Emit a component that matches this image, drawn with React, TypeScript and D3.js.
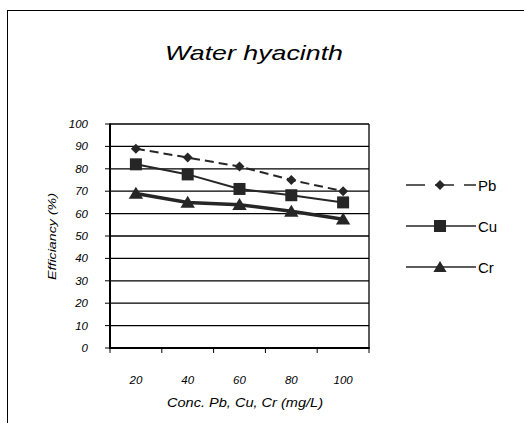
import React from "react";
import * as d3 from "d3";

const categories = ["20", "40", "60", "80", "100"];
const pbValues = [89, 85, 81, 75, 70];
const cuValues = [82, 77.5, 71, 68.2, 65];
const crValues = [69, 65, 64, 61, 57.5];
const yTicks = [0, 10, 20, 30, 40, 50, 60, 70, 80, 90, 100];
const seriesNames = ["Pb", "Cu", "Cr"];

const W = 524;
const H = 423;
const left = 110;
const right = 369;
const top = 124;
const bottom = 348;
const ink = "#262626";
const font = "'Liberation Sans', Arial, sans-serif";

export default function App() {
  const x = d3.scaleBand<string>().domain(categories).range([left, right]);
  const y = d3.scaleLinear().domain([0, 100]).range([bottom, top]);
  const cx = (c: string) => (x(c) as number) + x.bandwidth() / 2;
  const line = d3
    .line<number>()
    .x((_, i) => cx(categories[i]))
    .y((d) => y(d));

  const diamond = (px: number, py: number, r: number) =>
    `M${px},${py - r}L${px + r},${py}L${px},${py + r}L${px - r},${py}Z`;
  const tri = (px: number, py: number, s: number) =>
    `M${px},${py - s * 0.55}L${px + s * 0.6},${py + s * 0.45}L${px - s * 0.6},${py + s * 0.45}Z`;

  const legendY = [185, 226, 267];
  const lx0 = 406;
  const lx1 = 476;
  const lmx = 440;

  const boundaries = [...categories.map((c) => x(c) as number), right];

  return (
    <div style={{ position: "absolute", left: 0, top: 0 }}>
      <svg width={W} height={H} style={{ display: "block", background: "#fff" }}>
        <rect x={7.5} y={10.5} width={700} height={700} fill="#fff" stroke="#000" strokeWidth={1} />
        <text
          x={165}
          y={60}
          textLength={178}
          lengthAdjust="spacingAndGlyphs"
          fontFamily={font}
          fontStyle="italic"
          fontSize={21}
          fill="#000"
        >
          Water hyacinth
        </text>

        {/* gridlines */}
        {yTicks.map((t) => (
          <line key={"g" + t} x1={left} x2={right} y1={y(t)} y2={y(t)} stroke="#000" strokeWidth={1.3} />
        ))}
        {/* plot frame */}
        <line x1={right} x2={right} y1={top} y2={bottom} stroke="#000" strokeWidth={1.3} />
        <line x1={left} x2={left} y1={top - 0.5} y2={bottom + 1} stroke="#000" strokeWidth={2} />
        <line x1={left} x2={right + 0.7} y1={bottom} y2={bottom} stroke="#000" strokeWidth={2} />

        {/* y ticks */}
        {yTicks.map((t) => (
          <g key={"yt" + t}>
            <line x1={left - 5} x2={left} y1={y(t)} y2={y(t)} stroke="#000" strokeWidth={1} />
            <text
              x={88}
              y={y(t) + 4}
              textAnchor="end"
              fontFamily={font}
              fontStyle="italic"
              fontSize={11.5}
              fill="#000"
            >
              {t}
            </text>
          </g>
        ))}
        {/* x ticks */}
        {boundaries.map((b, i) => (
          <line key={"xt" + i} x1={b} x2={b} y1={bottom} y2={bottom + 5} stroke="#000" strokeWidth={1} />
        ))}
        {categories.map((c) => (
          <text
            key={"xl" + c}
            x={cx(c)}
            y={384}
            textAnchor="middle"
            fontFamily={font}
            fontStyle="italic"
            fontSize={11.5}
            fill="#000"
          >
            {c}
          </text>
        ))}
        <text
          x={167}
          y={407}
          textLength={156}
          lengthAdjust="spacingAndGlyphs"
          fontFamily={font}
          fontStyle="italic"
          fontSize={12}
          fill="#000"
        >
          Conc. Pb, Cu, Cr (mg/L)
        </text>
        <text
          transform={`translate(56,280) rotate(-90)`}
          textLength={87}
          lengthAdjust="spacingAndGlyphs"
          fontFamily={font}
          fontStyle="italic"
          fontSize={11.5}
          fill="#000"
        >
          Efficiancy (%)
        </text>

        {/* series lines */}
        <path d={line(pbValues) || ""} fill="none" stroke={ink} strokeWidth={2} strokeDasharray="9,5" />
        <path d={line(cuValues) || ""} fill="none" stroke={ink} strokeWidth={2} />
        <path d={line(crValues) || ""} fill="none" stroke={ink} strokeWidth={3.5} />

        {pbValues.map((v, i) => (
          <path key={"pb" + i} d={diamond(cx(categories[i]), y(v), 5)} fill={ink} />
        ))}
        {cuValues.map((v, i) => (
          <rect key={"cu" + i} x={cx(categories[i]) - 6} y={y(v) - 6} width={12} height={12} fill={ink} />
        ))}
        {crValues.map((v, i) => (
          <path key={"cr" + i} d={tri(cx(categories[i]), y(v), 12)} fill={ink} />
        ))}

        {/* legend */}
        <line x1={lx0} x2={lx1} y1={legendY[0]} y2={legendY[0]} stroke={ink} strokeWidth={1.5} strokeDasharray="19,10" />
        <path d={diamond(lmx, legendY[0], 5)} fill={ink} />
        <line x1={lx0} x2={lx1} y1={legendY[1]} y2={legendY[1]} stroke={ink} strokeWidth={1.5} />
        <rect x={lmx - 6} y={legendY[1] - 6} width={12} height={12} fill={ink} />
        <line x1={lx0} x2={lx1} y1={legendY[2]} y2={legendY[2]} stroke={ink} strokeWidth={1.5} />
        <path d={tri(lmx, legendY[2], 11)} fill={ink} />
        {seriesNames.map((n, i) => (
          <text
            key={"lg" + n}
            x={478}
            y={legendY[i] + 5.5}
            fontFamily={font}
            fontSize={15}
            fill="#000"
          >
            {n}
          </text>
        ))}
      </svg>
    </div>
  );
}
